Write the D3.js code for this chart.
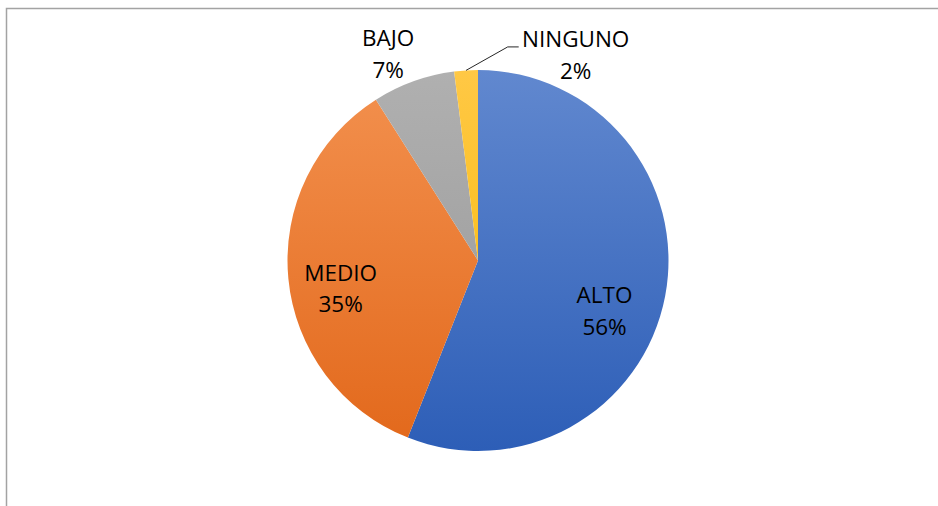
<!DOCTYPE html>
<html>
<head>
<meta charset="utf-8">
<script src="https://cdn.jsdelivr.net/npm/d3@7"></script>
<style>
  body { margin: 0; background: #fff; }
</style>
</head>
<body>
<div id="chart"></div>
<script>
// data
var categories = ["ALTO", "MEDIO", "BAJO", "NINGUNO"];
var values = [56, 35, 7, 2];
var percentLabels = ["56%", "35%", "7%", "2%"];

// styles
var topColors = ["#6188cf", "#f3914f", "#b0b0b0", "#ffc845"];
var bottomColors = ["#2d5eb7", "#e2681b", "#969696", "#f7b800"];

var W = 938, H = 506;
var cx = 478, cy = 260.5, radius = 190.5;

var svg = d3.select("#chart").append("svg")
    .attr("width", W)
    .attr("height", H);

// chart frame (runs off the picture to the right and bottom)
svg.append("rect")
    .attr("x", 6.5).attr("y", 8.5)
    .attr("width", W + 20).attr("height", H + 20)
    .attr("fill", "none")
    .attr("stroke", "#a3a3a3")
    .attr("stroke-width", 1.5);

var dataset = categories.map(function(c, i) {
    return { name: c, value: values[i], pct: percentLabels[i], idx: i };
});

var defs = svg.append("defs");
dataset.forEach(function(d, i) {
    var g = defs.append("linearGradient")
        .attr("id", "grad" + i)
        .attr("gradientUnits", "userSpaceOnUse")
        .attr("x1", 0).attr("y1", -radius)
        .attr("x2", 0).attr("y2", radius);
    g.append("stop").attr("offset", "0%").attr("stop-color", topColors[i]);
    g.append("stop").attr("offset", "100%").attr("stop-color", bottomColors[i]);
});

var pie = d3.pie()
    .value(function(d) { return d.value; })
    .sort(null);

var arc = d3.arc().innerRadius(0).outerRadius(radius);
var inLabelArc = d3.arc().innerRadius(138).outerRadius(138);
var outLabelArc = d3.arc().innerRadius(212).outerRadius(212);
var edgeArc = d3.arc().innerRadius(radius).outerRadius(radius);

var g = svg.append("g").attr("transform", "translate(" + cx + "," + cy + ")");

var arcs = pie(dataset);

g.selectAll("path.slice")
    .data(arcs)
    .enter()
    .append("path")
    .attr("class", "slice")
    .attr("d", arc)
    .attr("fill", function(d) { return "url(#grad" + d.data.idx + ")"; });

// label nudges (Excel's manual placement)
var nudges = [[-9, 25], [0, 15], [-18, -7], [111, 6]];

function labelPos(d) {
    var p = d.data.value >= 10 ? inLabelArc.centroid(d) : outLabelArc.centroid(d);
    var n = nudges[d.data.idx];
    return [p[0] + n[0], p[1] + n[1]];
}

// leader line for NINGUNO
arcs.filter(function(d) { return d.data.name === "NINGUNO"; }).forEach(function(d) {
    var start = edgeArc.centroid(d);
    var lp = labelPos(d);
    var textLeft = lp[0] - 55;
    var lineY = lp[1] - 8;
    g.append("polyline")
        .attr("points", [start, [textLeft - 13, lineY], [textLeft - 2, lineY]].map(function(p) { return p.join(","); }).join(" "))
        .attr("fill", "none")
        .attr("stroke", "#262626")
        .attr("stroke-width", 1);
});

var labels = g.selectAll("text.lbl")
    .data(arcs)
    .enter()
    .append("text")
    .attr("class", "lbl")
    .attr("text-anchor", "middle")
    .style("font-family", "'Open Sans', sans-serif")
    .style("font-size", "22.5px")
    .style("fill", "#000");

labels.append("tspan")
    .attr("x", function(d) { return labelPos(d)[0]; })
    .attr("y", function(d) { return labelPos(d)[1] - 8; })
    .text(function(d) { return d.data.name; });

labels.append("tspan")
    .attr("x", function(d) { return labelPos(d)[0]; })
    .attr("y", function(d) { return labelPos(d)[1] + 24; })
    .text(function(d) { return d.data.pct; });
</script>
</body>
</html>
